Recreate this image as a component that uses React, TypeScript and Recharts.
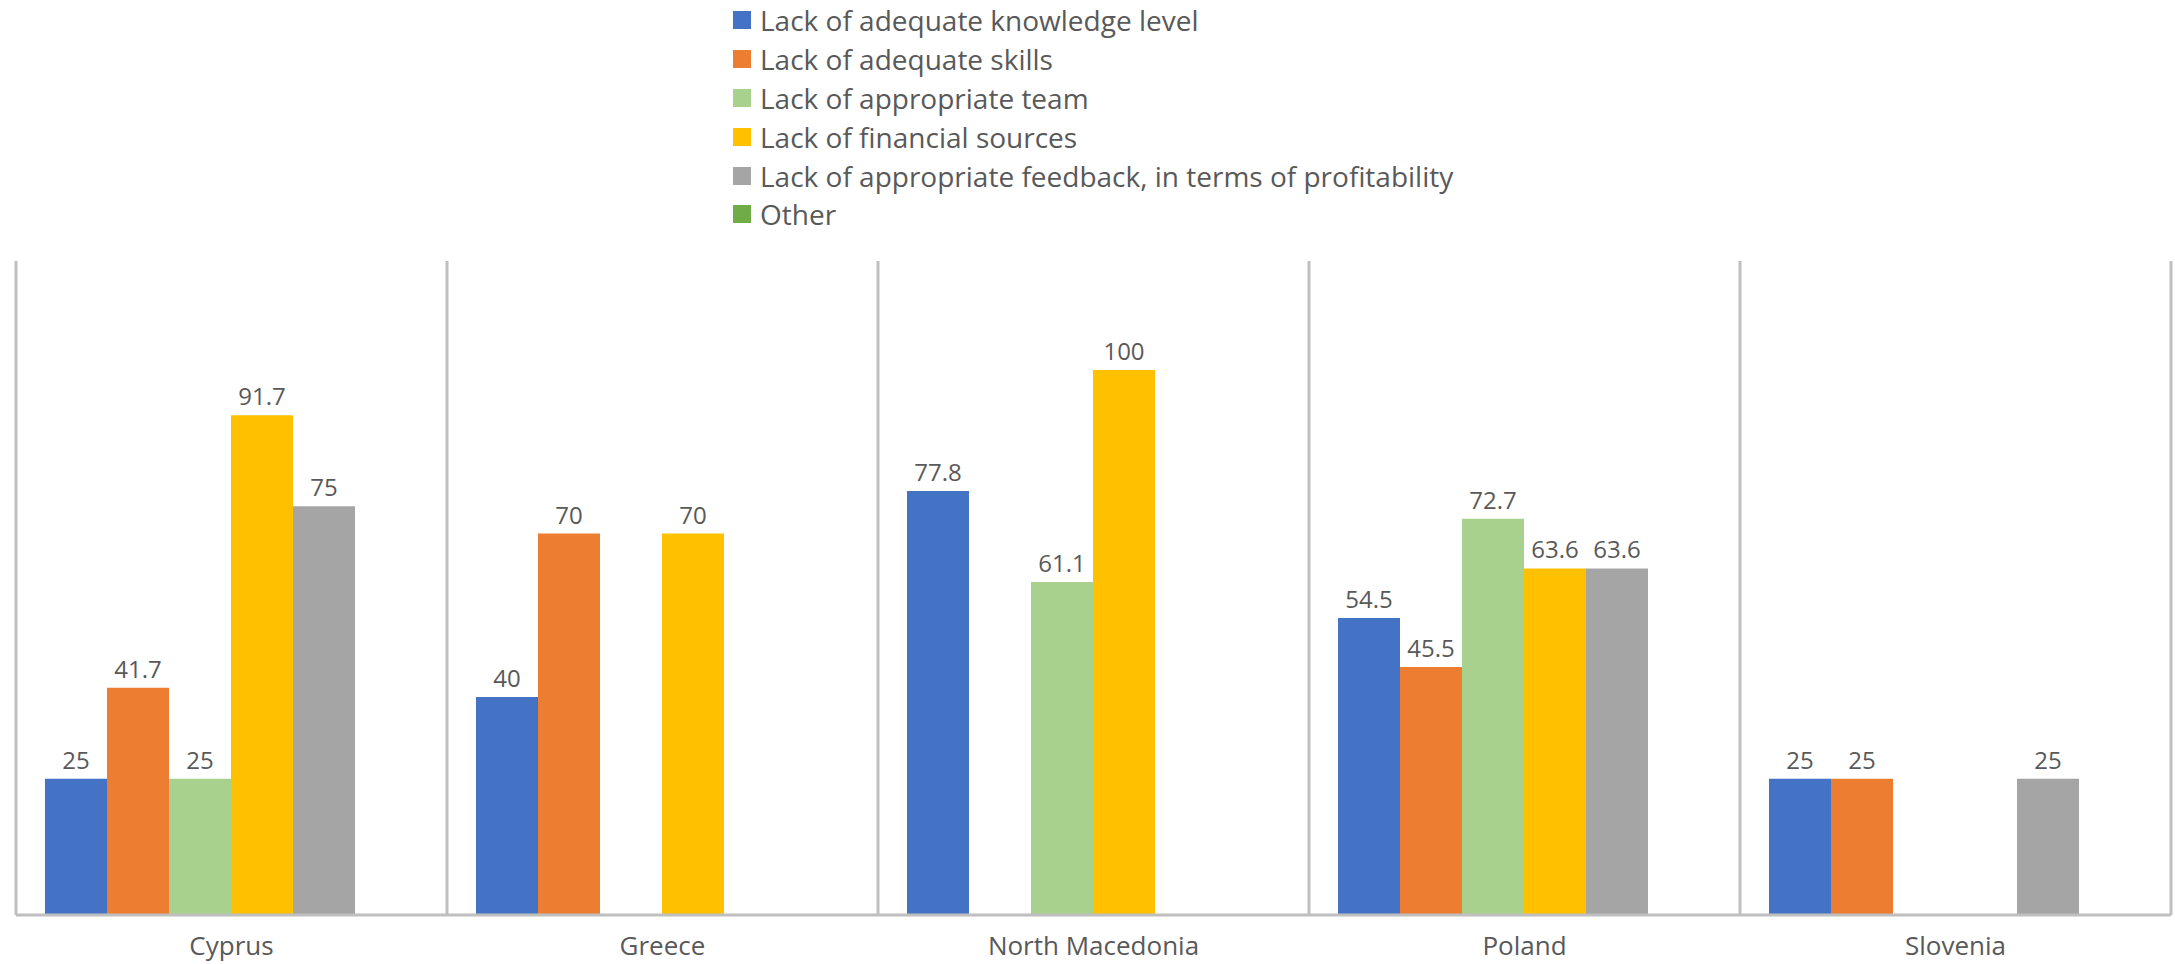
import React from "react";
import { BarChart, Bar, XAxis, YAxis, CartesianGrid, Legend, LabelList } from "recharts";

const countries = ["Cyprus", "Greece", "North Macedonia", "Poland", "Slovenia"];
const series = [
  "Lack of adequate knowledge level",
  "Lack of adequate skills",
  "Lack of appropriate team",
  "Lack of financial sources",
  "Lack of appropriate feedback, in terms of profitability",
  "Other",
];
const knowledge = [25, 40, 77.8, 54.5, 25];
const skills = [41.7, 70, null, 45.5, 25];
const team = [25, null, 61.1, 72.7, null];
const financial = [91.7, 70, 100, 63.6, null];
const feedback = [75, null, null, 63.6, 25];
const other = [null, null, null, null, null];
const colors = ["#4472C4", "#ED7D31", "#A9D18E", "#FFC000", "#A5A5A5", "#70AD47"];

const keys = ["s0", "s1", "s2", "s3", "s4", "s5"];
const allSeries = [knowledge, skills, team, financial, feedback, other];
const data = countries.map((c, i) => {
  const row: Record<string, any> = { name: c };
  allSeries.forEach((arr, k) => (row[keys[k]] = arr[i]));
  return row;
});

const FONT = "'Open Sans', 'Noto Sans', sans-serif";

function LegendBox() {
  return (
    <div style={{ fontFamily: FONT, fontSize: 28, color: "#595959" }}>
      {series.map((s, i) => (
        <div key={s} style={{ display: "flex", alignItems: "center", height: 38.8, whiteSpace: "nowrap" }}>
          <span style={{ width: 18, height: 18, background: colors[i], marginRight: 9, display: "inline-block" }} />
          <span>{s}</span>
        </div>
      ))}
    </div>
  );
}

export default function App() {
  return (
    <div style={{ position: "absolute", left: 0, top: 0 }}>
      <BarChart
        width={2175}
        height={964}
        data={data}
        margin={{ top: 261, right: 4, bottom: 0, left: 16 }}
        barCategoryGap={29}
        barGap={0}
      >
        <CartesianGrid
          horizontal={false}
          stroke="#BFBFBF"
          strokeWidth={3}
          verticalCoordinatesGenerator={({ offset }: any) =>
            countries.map((_, i) => offset.left + (i * offset.width) / countries.length).concat(offset.left + offset.width)
          }
        />
        <XAxis
          dataKey="name"
          height={49}
          tickLine={false}
          axisLine={{ stroke: "#BFBFBF", strokeWidth: 3 }}
          tick={{ fill: "#595959", fontSize: 26, fontFamily: FONT }}
          tickMargin={16}
        />
        <YAxis hide domain={[0, 120]} />
        <Legend
          layout="vertical"
          align="center"
          verticalAlign="middle"
          wrapperStyle={{ top: 1, left: 733, width: "auto" }}
          content={() => <LegendBox />}
        />
        {keys.map((k, i) => (
          <Bar key={k} dataKey={k} name={series[i]} fill={colors[i]} isAnimationActive={false}>
            <LabelList
              dataKey={k}
              position="top"
              offset={10}
              fill="#595959"
              fontSize={24}
              fontFamily={FONT}
              formatter={(v: any) => (v == null ? "" : v)}
            />
          </Bar>
        ))}
      </BarChart>
    </div>
  );
}
